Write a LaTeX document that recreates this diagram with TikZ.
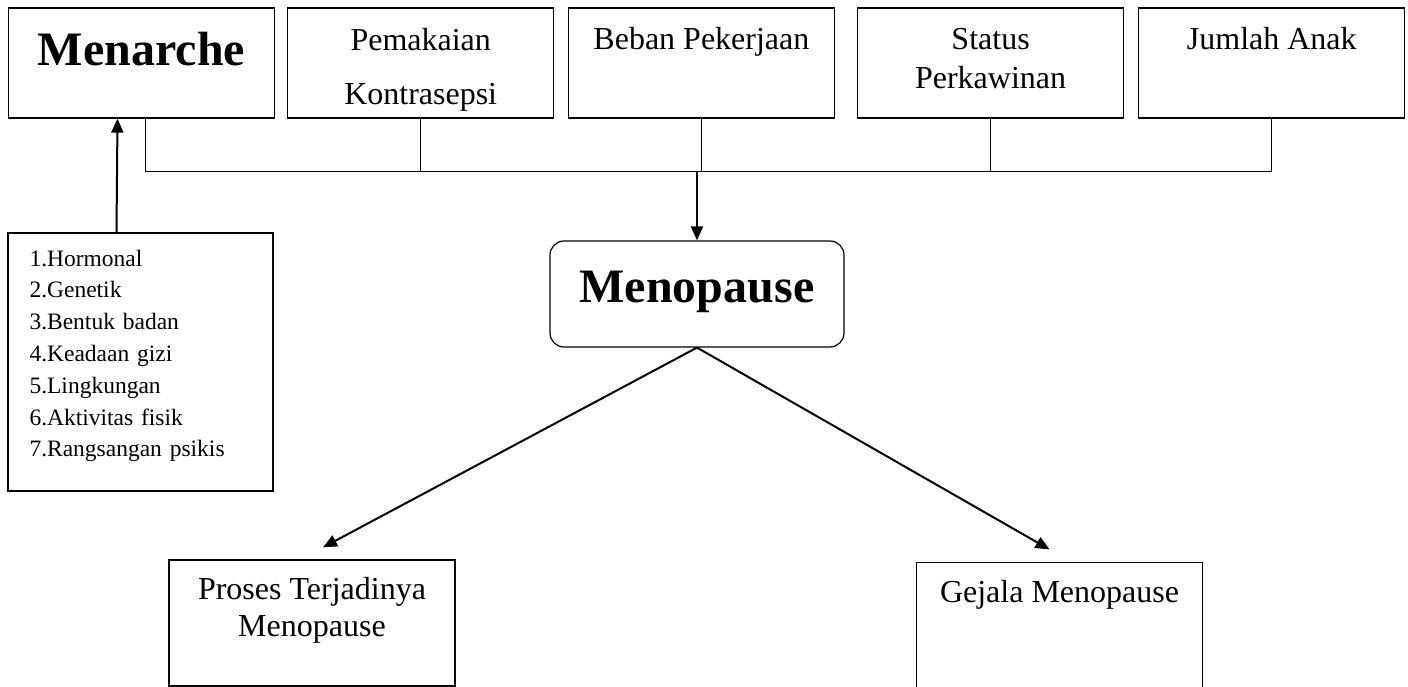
\documentclass[tikz,border=0pt]{standalone}
\usepackage{fontspec}
\setmainfont{Liberation Serif}
\usetikzlibrary{positioning,arrows.meta,calc}

\begin{document}
\begin{tikzpicture}[x=1pt,y=-1pt,
  box/.style={draw,line width=1.2pt,inner sep=0pt,minimum width=266pt,minimum height=110pt,
    align=center,font=\fontsize{32}{37}\selectfont},
  bigbox/.style={box,font=\fontsize{48}{56}\bfseries\selectfont},
  ln/.style={line width=1pt},
  ar/.style={line width=2pt,-{Triangle[length=14pt,width=12pt]}}, node distance=12pt]
\useasboundingbox (0,0) rectangle (1408,687);
% top row
\node[bigbox,text height=34pt,text depth=28pt] (menarche) at (141.5,63) {Menarche};
\node[box,right=12pt of menarche,text height=88pt,text depth=4pt] (kontra) {Pemakaian\\[17pt]Kontrasepsi};
\node[box,right=13.5pt of kontra,text height=21pt,text depth=47pt] (beban) {Beban Pekerjaan};
\node[box,right=22pt of beban,text height=60pt,text depth=8pt] (status) {Status\\[2pt]Perkawinan};
\node[box,right=14pt of status,text height=21pt,text depth=47pt] (jumlah) {Jumlah Anak};
% factors of menarche
\node[box,minimum width=265pt,minimum height=258pt,text width=222pt,align=left,
  text height=16pt,text depth=208pt,
  font=\fontsize{23.5}{31.8}\selectfont] (faktor) at (140.5,362)
  {1.Hormonal\\2.Genetik\\3.Bentuk badan\\4.Keadaan gizi\\5.Lingkungan\\6.Aktivitas fisik\\7.Rangsangan psikis};
% middle and bottom
\node[bigbox,rounded corners=14pt,minimum width=294pt,minimum height=106pt,
  text height=34pt,text depth=18pt] (meno) at (697,294) {Menopause};
\node[box,minimum width=286pt,minimum height=126pt,text height=40pt,text depth=14pt] (proses) at (312,623)
  {Proses Terjadinya\\Menopause};
\node[box,draw=none,minimum width=285pt,minimum height=124pt,text height=21pt,text depth=67pt] (gejala) at (1059.5,625)
  {Gejala Menopause};
\draw[line width=1.2pt] (gejala.south west) -- (gejala.north west) -- (gejala.north east) -- (gejala.south east);
% connectors
\coordinate (bus) at (0,172);
\draw[ln] ([xshift=4pt]menarche.south) |- (bus -| jumlah.south) -- (jumlah.south);
\foreach \n in {kontra,beban,status} \draw[ln] (\n.south) -- (bus -| \n.south);
\draw[ar] (bus -| meno.north) -- (meno.north);
\draw[ar] ([xshift=-24pt]faktor.north) -- ([xshift=-24pt]menarche.south);
\draw[ar] (meno.south) -- ([xshift=11pt,yshift=12pt]proses.north);
\draw[ar] (meno.south) -- ([xshift=-10pt,yshift=13pt]gejala.north);
\end{tikzpicture}
\end{document}
